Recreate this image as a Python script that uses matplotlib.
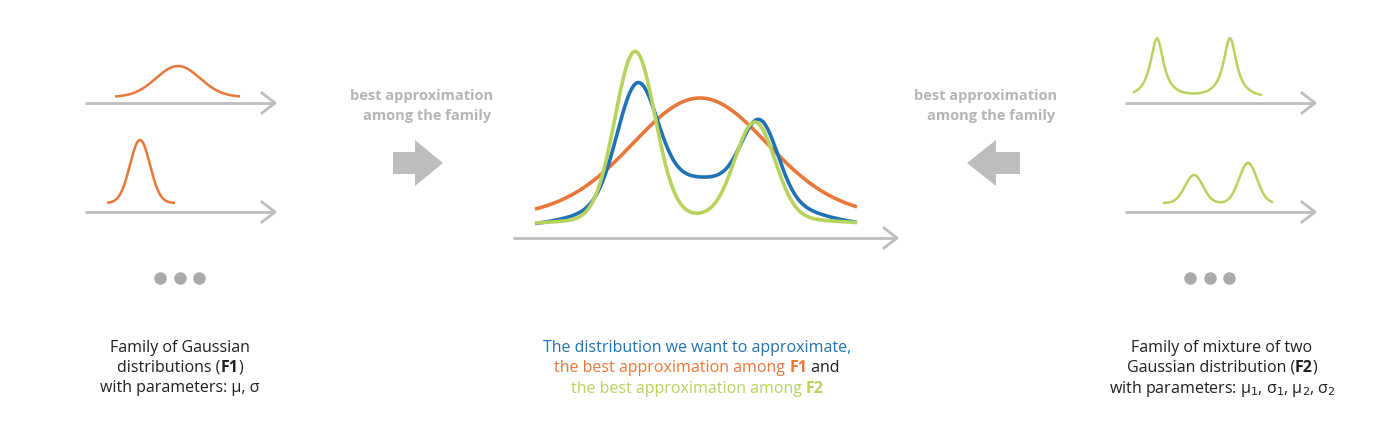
import numpy as np
import matplotlib.pyplot as plt
from matplotlib.patches import Polygon

BLUE = '#2172b4'
ORANGE = '#e8773a'
GREEN = '#b8d25e'
GRAY = '#bdbdbd'
TXT = '#231f20'

# curve parameters in pixel space: (center, height, width)
f1_top = [(178, 31, 22)]
f1_bottom = [(140, 63, 10)]
target = [(637, 110, 20), (760, 72, 18), (700, 50, 75)]
best_f1 = [(700, 105, 65), (700, 25, 160)]
best_f2 = [(635, 166, 20), (755, 95, 20), (700, 14, 140)]
f2_top = [(1157, 60, 8), (1230, 60, 8)]  # lorentzian
f2_bottom = [(1194, 28, 9), (1248, 40, 9)]

plt.rcParams['font.family'] = ['Open Sans', 'DejaVu Sans']
fig = plt.figure(figsize=(14, 4.41), dpi=100)
ax = fig.add_axes([0, 0, 1, 1])
ax.set_xlim(0, 1400)
ax.set_ylim(441, 0)
ax.axis('off')


def gauss(x, comps):
    return sum(h * np.exp(-(x - c) ** 2 / (2 * s ** 2)) for c, h, s in comps)


def lorentz(x, comps):
    return sum(h / (1 + ((x - c) / g) ** 2) for c, h, g in comps)


def axis_arrow(x0, x1, y):
    ax.plot([x0, x1], [y, y], color=GRAY, lw=2, solid_capstyle='butt')
    ax.plot([x1 - 13, x1, x1 - 13], [y - 10, y, y + 10], color=GRAY, lw=2)


def curve(x0, x1, base, comps, color, lw, f=gauss):
    x = np.linspace(x0, x1, 400)
    ax.plot(x, base - f(x, comps), color=color, lw=lw, solid_capstyle='butt')


# left panel
axis_arrow(85, 275, 103)
curve(115, 240, 97, f1_top, ORANGE, 1.8)
axis_arrow(85, 275, 212)
curve(107, 175, 203, f1_bottom, ORANGE, 1.8)
for xd in (160, 180, 199):
    ax.plot(xd, 278, 'o', color='#aaaaaa', ms=8)

# right panel
axis_arrow(1125, 1315, 103)
curve(1133, 1262, 99, f2_top, GREEN, 1.8, lorentz)
axis_arrow(1125, 1315, 212)
curve(1163, 1273, 203, f2_bottom, GREEN, 1.8)
for xd in (1190, 1210, 1229):
    ax.plot(xd, 278, 'o', color='#aaaaaa', ms=8)

# center panel
axis_arrow(513, 897, 238)
curve(535, 857, 228, best_f1, ORANGE, 2.6)
curve(535, 857, 228, target, BLUE, 2.6)
curve(535, 857, 230, best_f2, GREEN, 2.6)

# block arrows
ax.add_patch(Polygon([(393, 152), (415, 152), (415, 140), (443, 163), (415, 186), (415, 174), (393, 174)],
                     color=GRAY, lw=0))
ax.add_patch(Polygon([(1020, 152), (996, 152), (996, 140), (967, 163), (996, 186), (996, 174), (1020, 174)],
                     color=GRAY, lw=0))
for cx in (422, 986):
    ax.text(cx, 96, 'best approximation', ha='center', va='center', fontsize=10.5,
            color='#b5b5b5', fontweight='bold')
    ax.text(cx + 5, 116, 'among the family', ha='center', va='center', fontsize=10.5,
            color='#b5b5b5', fontweight='bold')

fs = 11.5
ax.text(180, 348, 'Family of Gaussian', ha='center', va='center', fontsize=fs, color=TXT)
ax.text(180, 388, 'with parameters: μ, σ', ha='center', va='center', fontsize=fs, color=TXT)
ax.text(1222, 348, 'Family of mixture of two', ha='center', va='center', fontsize=fs, color=TXT)
ax.text(1222, 389, r'with parameters: μ$_1$, σ$_1$, μ$_2$, σ$_2$', ha='center', va='center',
        fontsize=fs, color=TXT)

fig.canvas.draw()
renderer = fig.canvas.get_renderer()


def rich_line(cx, y, parts):
    # parts: list of (text, color, weight); drawn centered on cx
    texts = [ax.text(0, y, t, fontsize=fs, color=c, fontweight=w, va='center') for t, c, w in parts]
    widths = []
    inv = ax.transData.inverted()
    for t in texts:
        bb = t.get_window_extent(renderer)
        p0 = inv.transform((bb.x0, bb.y0))
        p1 = inv.transform((bb.x1, bb.y0))
        widths.append(p1[0] - p0[0])
    x = cx - sum(widths) / 2
    for t, w in zip(texts, widths):
        t.set_x(x)
        x += w


rich_line(180, 368, [('distributions (', TXT, 'normal'), ('F1', TXT, 'bold'), (')', TXT, 'normal')])
rich_line(1222, 368, [('Gaussian distribution (', TXT, 'normal'), ('F2', TXT, 'bold'), (')', TXT, 'normal')])
rich_line(697, 348, [('The distribution we want to approximate,', BLUE, 'normal')])
rich_line(697, 368, [('the best approximation among ', ORANGE, 'normal'), ('F1', ORANGE, 'bold'),
                     (' and', TXT, 'normal')])
rich_line(697, 389, [('the best approximation among ', GREEN, 'normal'), ('F2', GREEN, 'bold')])

fig.savefig('out.png', dpi=100)
